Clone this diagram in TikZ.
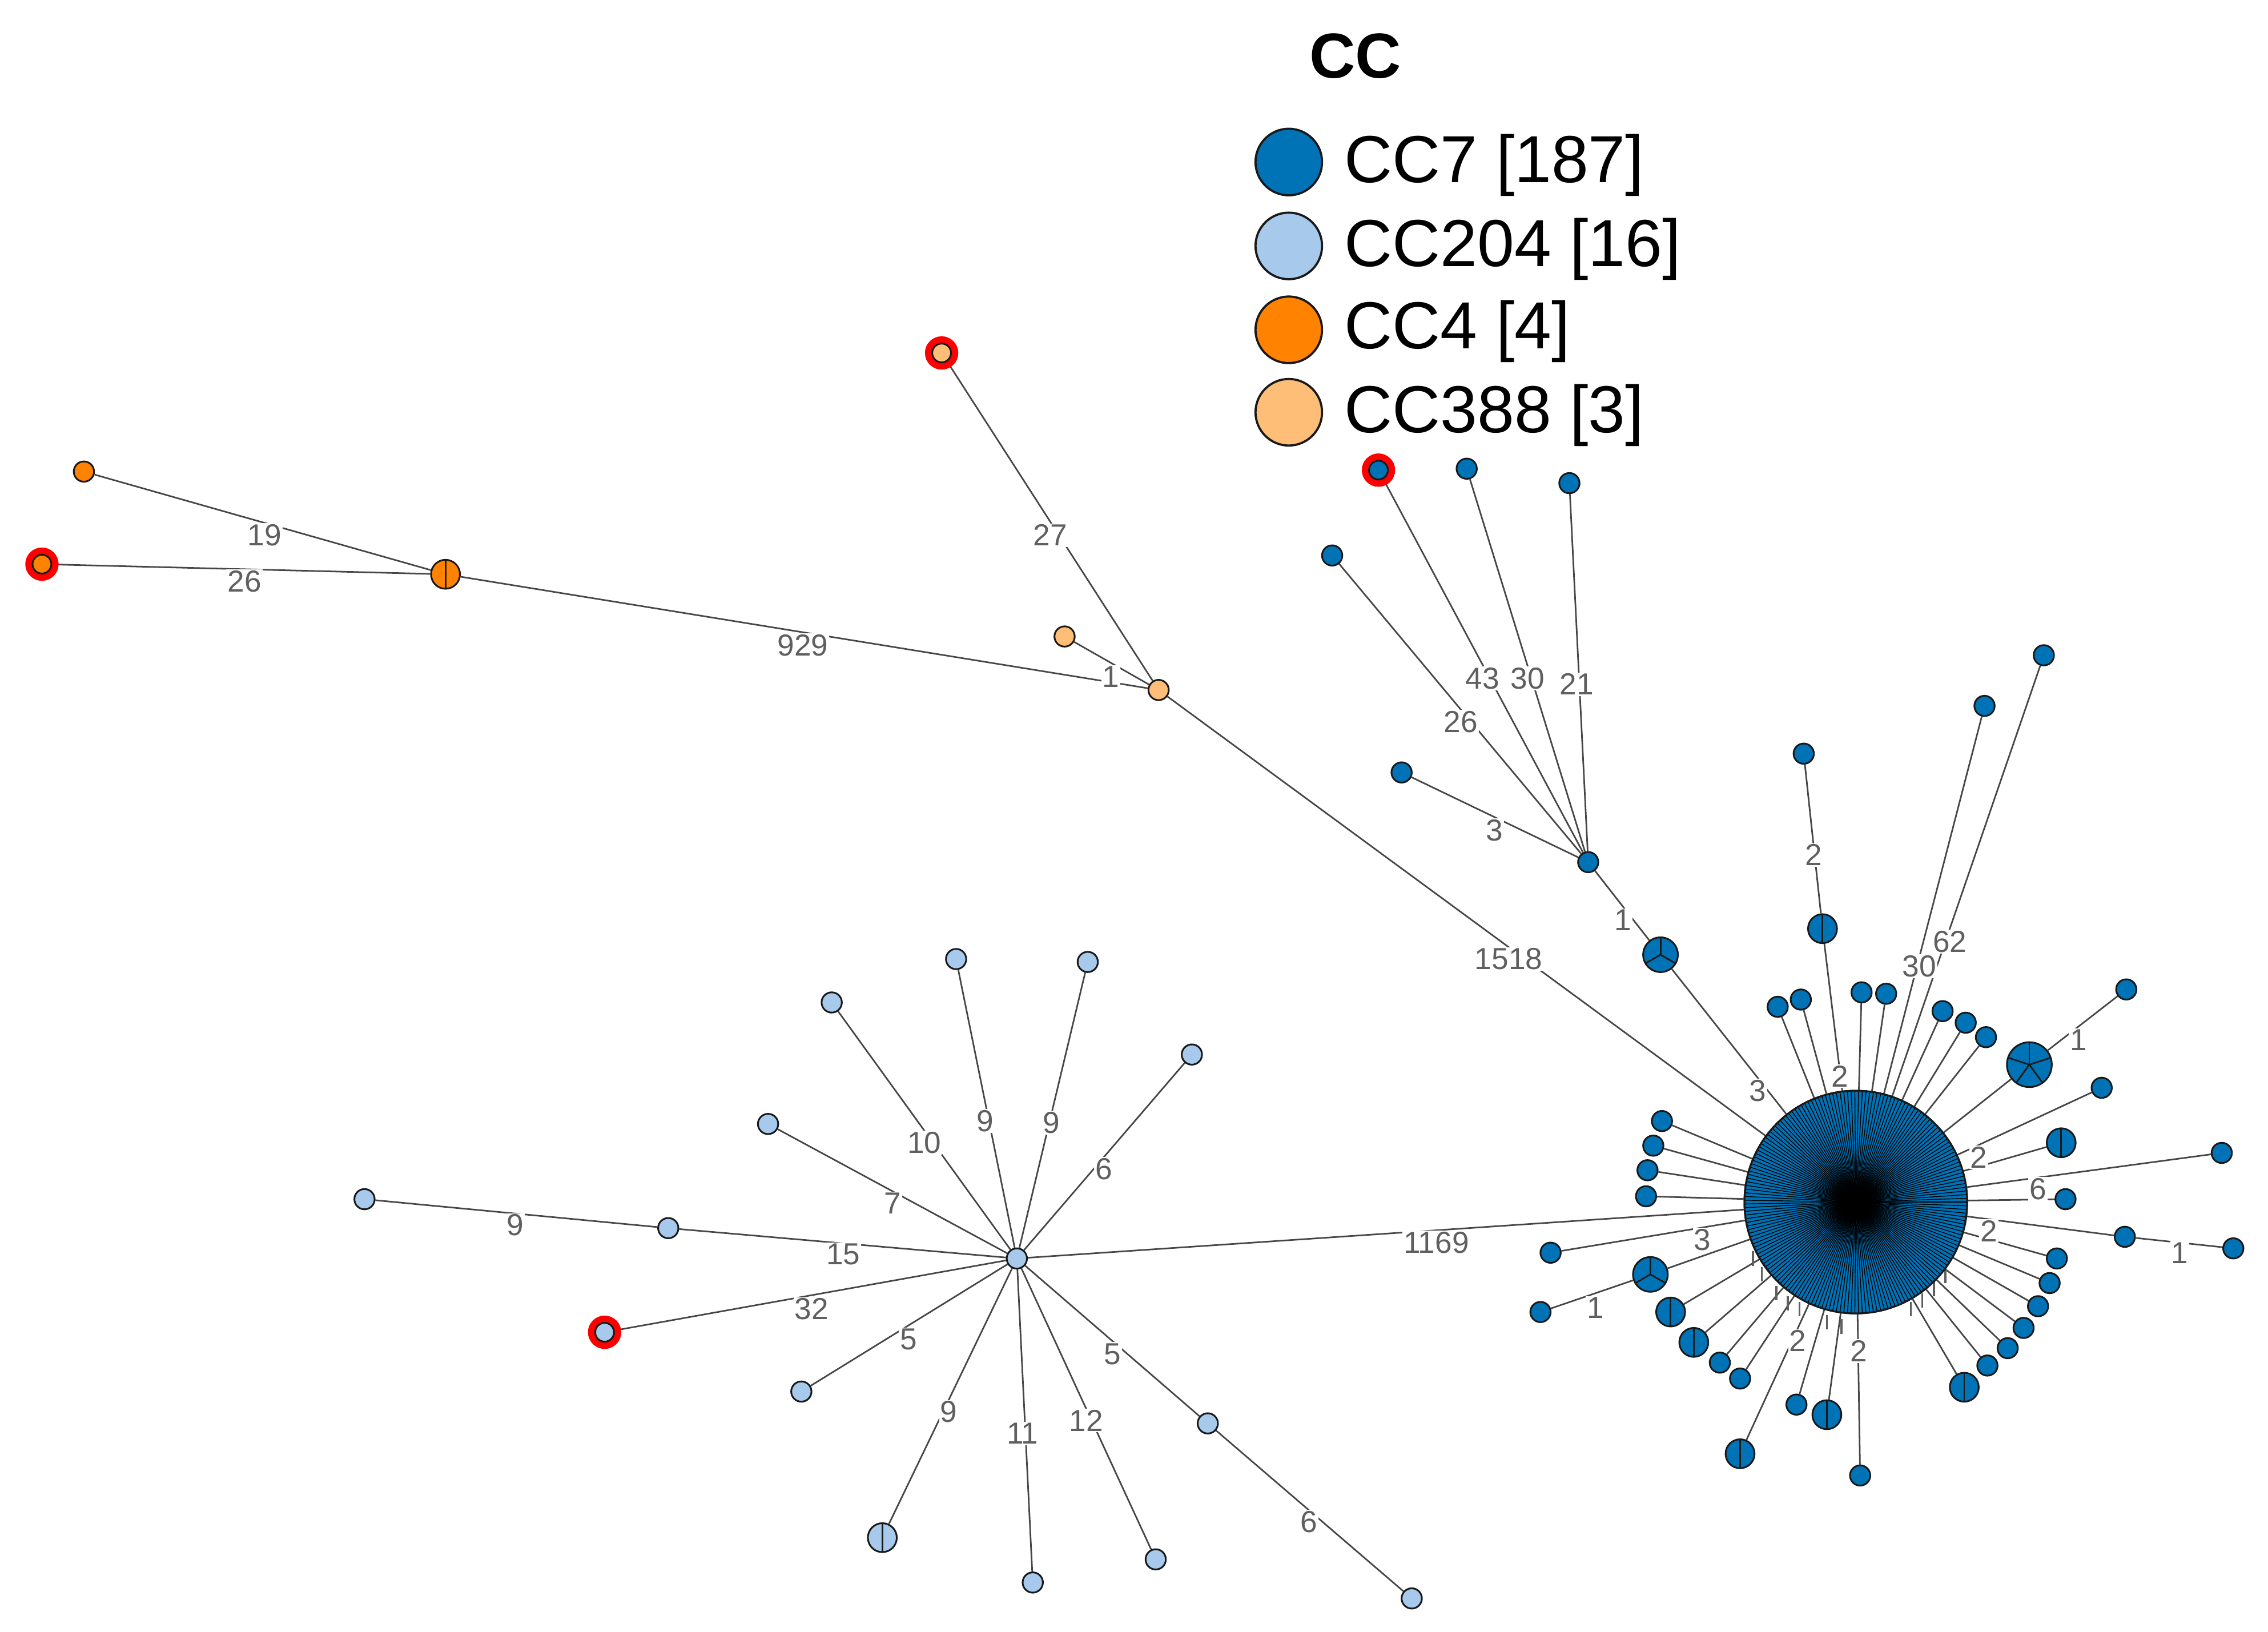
\documentclass[tikz,border=0pt]{standalone}
\usepackage{fontspec}
\setmainfont{Liberation Sans}
\usetikzlibrary{backgrounds}
\definecolor{cc7}{RGB}{0,115,183}
\definecolor{cc204}{RGB}{166,201,236}
\definecolor{cc4}{RGB}{255,130,0}
\definecolor{cc388}{RGB}{254,190,120}
\definecolor{ndline}{RGB}{25,25,25}
\definecolor{edgecol}{RGB}{70,70,70}
\definecolor{labcol}{RGB}{95,95,95}
\tikzset{
 nd/.style={circle, draw=ndline, line width=1.2pt, inner sep=0pt, minimum size=14pt},
 n7/.style={nd, fill=cc7},
 n204/.style={nd, fill=cc204},
 n4/.style={nd, fill=cc4},
 n388/.style={nd, fill=cc388},
 big2/.style={minimum size=20pt, path picture={\draw[line width=1.1pt, ndline] ([yshift=-15pt]path picture bounding box.center) -- ([yshift=15pt]path picture bounding box.center);}},
 big3/.style={minimum size=24pt, path picture={\foreach \a in {90,210,330} \draw[line width=1.1pt, ndline] (path picture bounding box.center) -- ++(\a:20pt);}},
 big5/.style={minimum size=31pt, path picture={\foreach \a in {90,162,234,306,18} \draw[line width=1.1pt, ndline] (path picture bounding box.center) -- ++(\a:25pt);}},
 hit/.style={preaction={draw=red, line width=10pt}, minimum size=13pt},
 conn/.style={draw=edgecol, line width=1.1pt},
 lab/.style={text=labcol, fill=white, inner sep=0.8pt, font=\fontsize{21}{21}\selectfont},
 hubtick/.style={draw=labcol, line width=1.4pt},
 legdot/.style={nd, minimum size=46pt, line width=1.5pt},
 legtxt/.style={anchor=base west, font=\fontsize{46}{46}\selectfont},
}
\begin{document}
\begin{tikzpicture}[x=1pt,y=-1pt]
\useasboundingbox (0,0) rectangle (1568,1128);

% ---------- legend ----------
\node[font=\bfseries\fontsize{44}{44}\selectfont, anchor=base] (cct) at (937,54) {CC};
\node[legdot, fill=cc7] (lg1) at (891,112) {};
\node[legdot, fill=cc204] (lg2) at (891,170) {};
\node[legdot, fill=cc4] (lg3) at (891,228) {};
\node[legdot, fill=cc388] (lg4) at (891,285) {};
\node[legtxt] (lt1) at (926,126) {CC7 [187]};
\node[legtxt] (lt2) at (926,184) {CC204 [16]};
\node[legtxt] (lt3) at (926,241) {CC4 [4]};
\node[legtxt] (lt4) at (926,299) {CC388 [3]};

% ---------- hub ----------
\node[circle, fill=cc7, draw=ndline, line width=1.2pt, minimum size=154pt, inner sep=0pt] (H) at (1283,831) {};
\foreach \i in {0,...,186} \draw[line width=0.55pt, black] (H.center) -- ++(\i*1.92513:76.5pt);
\node[circle, draw=ndline, line width=1.2pt, minimum size=154pt, inner sep=0pt] (Hb) at (H.center) {};

% ---------- CC4 ----------
\node[n4] (o1) at (58,326) {};
\node[n4, hit] (o2) at (29,390) {};
\node[n4, big2] (o3) at (308,397) {};
% ---------- CC388 ----------
\node[n388, hit] (p1) at (651,244) {};
\node[n388] (p2) at (736,440) {};
\node[n388] (p3) at (801,477) {};
% ---------- upper CC7 branch ----------
\node[n7] (q) at (1098,596) {};
\node[n7, hit] (u1) at (953,325) {};
\node[n7] (u2) at (1014,324) {};
\node[n7] (u3) at (1085,334) {};
\node[n7] (u4) at (921,384) {};
\node[n7] (u5) at (969,534) {};
\node[n7, big3] (t3) at (1148,660) {};
% ---------- hub top ----------
\node[n7, big2] (a1) at (1260,642) {};
\node[n7] (a0) at (1247,521) {};
\node[n7] (a2) at (1229,696) {};
\node[n7] (a3) at (1245,691) {};
\node[n7] (a4) at (1287,686) {};
\node[n7] (a5) at (1304,687) {};
\node[n7] (a6) at (1343,699) {};
\node[n7] (a7) at (1359,707) {};
\node[n7] (a8) at (1373,717) {};
\node[n7] (a9) at (1372,488) {};
\node[n7] (a10) at (1413,453) {};
% ---------- hub right ----------
\node[n7, big5] (b1) at (1403,736) {};
\node[n7] (b0) at (1470,684) {};
\node[n7] (b2) at (1453,752) {};
\node[n7, big2] (b3) at (1425,790) {};
\node[n7] (b4) at (1536,797) {};
\node[n7] (b5) at (1428,829) {};
\node[n7] (b6) at (1469,855) {};
\node[n7] (b7) at (1544,863) {};
\node[n7] (b8) at (1422,870) {};
\node[n7] (b9) at (1417,887) {};
\node[n7] (b10) at (1409,903) {};
\node[n7] (b11) at (1399,918) {};
\node[n7] (b12) at (1388,932) {};
\node[n7] (b13) at (1374,944) {};
\node[n7, big2] (b14) at (1358,959) {};
% ---------- hub bottom ----------
\node[n7] (c1) at (1286,1020) {};
\node[n7, big2] (c2) at (1263,978) {};
\node[n7] (c3) at (1242,971) {};
\node[n7, big2] (c4) at (1203,1005) {};
\node[n7] (c5) at (1203,953) {};
\node[n7] (c6) at (1189,942) {};
\node[n7, big2] (c7) at (1171,928) {};
\node[n7, big2] (c8) at (1155,907) {};
\node[n7, big3] (c9) at (1141,881) {};
\node[n7] (c10) at (1065,907) {};
\node[n7] (c11) at (1072,866) {};
% ---------- hub left ----------
\node[n7] (d1) at (1149,775) {};
\node[n7] (d2) at (1143,792) {};
\node[n7] (d3) at (1139,809) {};
\node[n7] (d4) at (1138,827) {};
% ---------- CC204 ----------
\node[n204] (w) at (703,870) {};
\node[n204] (w1) at (661,663) {};
\node[n204] (w2) at (752,665) {};
\node[n204] (w3) at (575,693) {};
\node[n204] (w4) at (824,729) {};
\node[n204] (w5) at (531,777) {};
\node[n204] (w6) at (462,849) {};
\node[n204] (w7) at (252,829) {};
\node[n204, hit] (w8) at (418,921) {};
\node[n204] (w9) at (554,962) {};
\node[n204, big2] (w10) at (610,1063) {};
\node[n204] (w11) at (714,1094) {};
\node[n204] (w12) at (799,1078) {};
\node[n204] (w13) at (835,984) {};
\node[n204] (w14) at (976,1105) {};

\begin{pgfonlayer}{background}
% edges
\draw[conn] (o1) -- (o3);
\draw[conn] (o2) -- (o3);
\draw[conn] (o3) -- (p3);
\draw[conn] (p1) -- (p3);
\draw[conn] (p2) -- (p3);
\draw[conn] (p3) -- (H);
\foreach \n in {u1,u2,u3,u4,u5,t3} \draw[conn] (q) -- (\n);
\draw[conn] (t3) -- (H);
\draw[conn] (a0) -- (a1);
\foreach \n in {a1,a2,a3,a4,a5,a6,a7,a8,a9,a10} \draw[conn] (H) -- (\n);
\draw[conn] (b0) -- (b1);
\draw[conn] (b6) -- (b7);
\foreach \n in {b1,b2,b3,b4,b5,b6,b8,b9,b10,b11,b12,b13,b14} \draw[conn] (H) -- (\n);
\foreach \n in {c1,c2,c3,c4,c5,c6,c7,c8,c9,c11} \draw[conn] (H) -- (\n);
\draw[conn] (c9) -- (c10);
\foreach \n in {d1,d2,d3,d4} \draw[conn] (H) -- (\n);
\draw[conn] (w) -- (H);
\foreach \n in {w1,w2,w3,w4,w5,w6,w8,w9,w10,w11,w12,w13} \draw[conn] (w) -- (\n);
\draw[conn] (w6) -- (w7);
\draw[conn] (w13) -- (w14);
% short label stubs at the hub rim
\foreach \x/\y in {1212/870,1218/881,1228/894,1236/901,1244/905,1263/914,1273/917,1321/905,1329/899,1337/891,1345/882}
  \draw[hubtick] (\x,\y-5) -- (\x,\y+5);
% labels
\node[lab] (L1) at (183,370) {19};
\node[lab] (L2) at (169,402) {26};
\node[lab] (L3) at (555,446) {929};
\node[lab] (L4) at (726,370) {27};
\node[lab] (L5) at (768,468) {1};
\node[lab] (L6) at (1043,663) {1518};
\node[lab] (L7) at (1010,499) {26};
\node[lab] (L8) at (1025,469) {43};
\node[lab] (L9) at (1056,469) {30};
\node[lab] (L10) at (1090,473) {21};
\node[lab] (L11) at (1033,574) {3};
\node[lab] (L12) at (1122,636) {1};
\node[lab] (L13) at (1215,754) {3};
\node[lab] (L14) at (1254,591) {2};
\node[lab] (L15) at (1272,744) {2};
\node[lab] (L16) at (1348,651) {62};
\node[lab] (L17) at (1327,668) {30};
\node[lab] (L18) at (1437,719) {1};
\node[lab] (L19) at (1368,800) {2};
\node[lab] (L20) at (1409,822) {6};
\node[lab] (L21) at (1375,851) {2};
\node[lab] (L22) at (1507,866) {1};
\node[lab] (L23) at (1243,927) {2};
\node[lab] (L24) at (1285,934) {2};
\node[lab] (L25) at (1177,857) {3};
\node[lab] (L26) at (1103,904) {1};
\node[lab] (L27) at (356,847) {9};
\node[lab] (L28) at (583,867) {15};
\node[lab] (L29) at (617,832) {7};
\node[lab] (L30) at (639,790) {10};
\node[lab] (L31) at (681,775) {9};
\node[lab] (L32) at (727,776) {9};
\node[lab] (L33) at (763,808) {6};
\node[lab] (L34) at (993,859) {1169};
\node[lab] (L35) at (561,905) {32};
\node[lab] (L36) at (628,926) {5};
\node[lab] (L37) at (656,976) {9};
\node[lab] (L38) at (707,991) {11};
\node[lab] (L39) at (751,982) {12};
\node[lab] (L40) at (769,936) {5};
\node[lab] (L41) at (905,1052) {6};
\end{pgfonlayer}
\end{tikzpicture}
\end{document}
